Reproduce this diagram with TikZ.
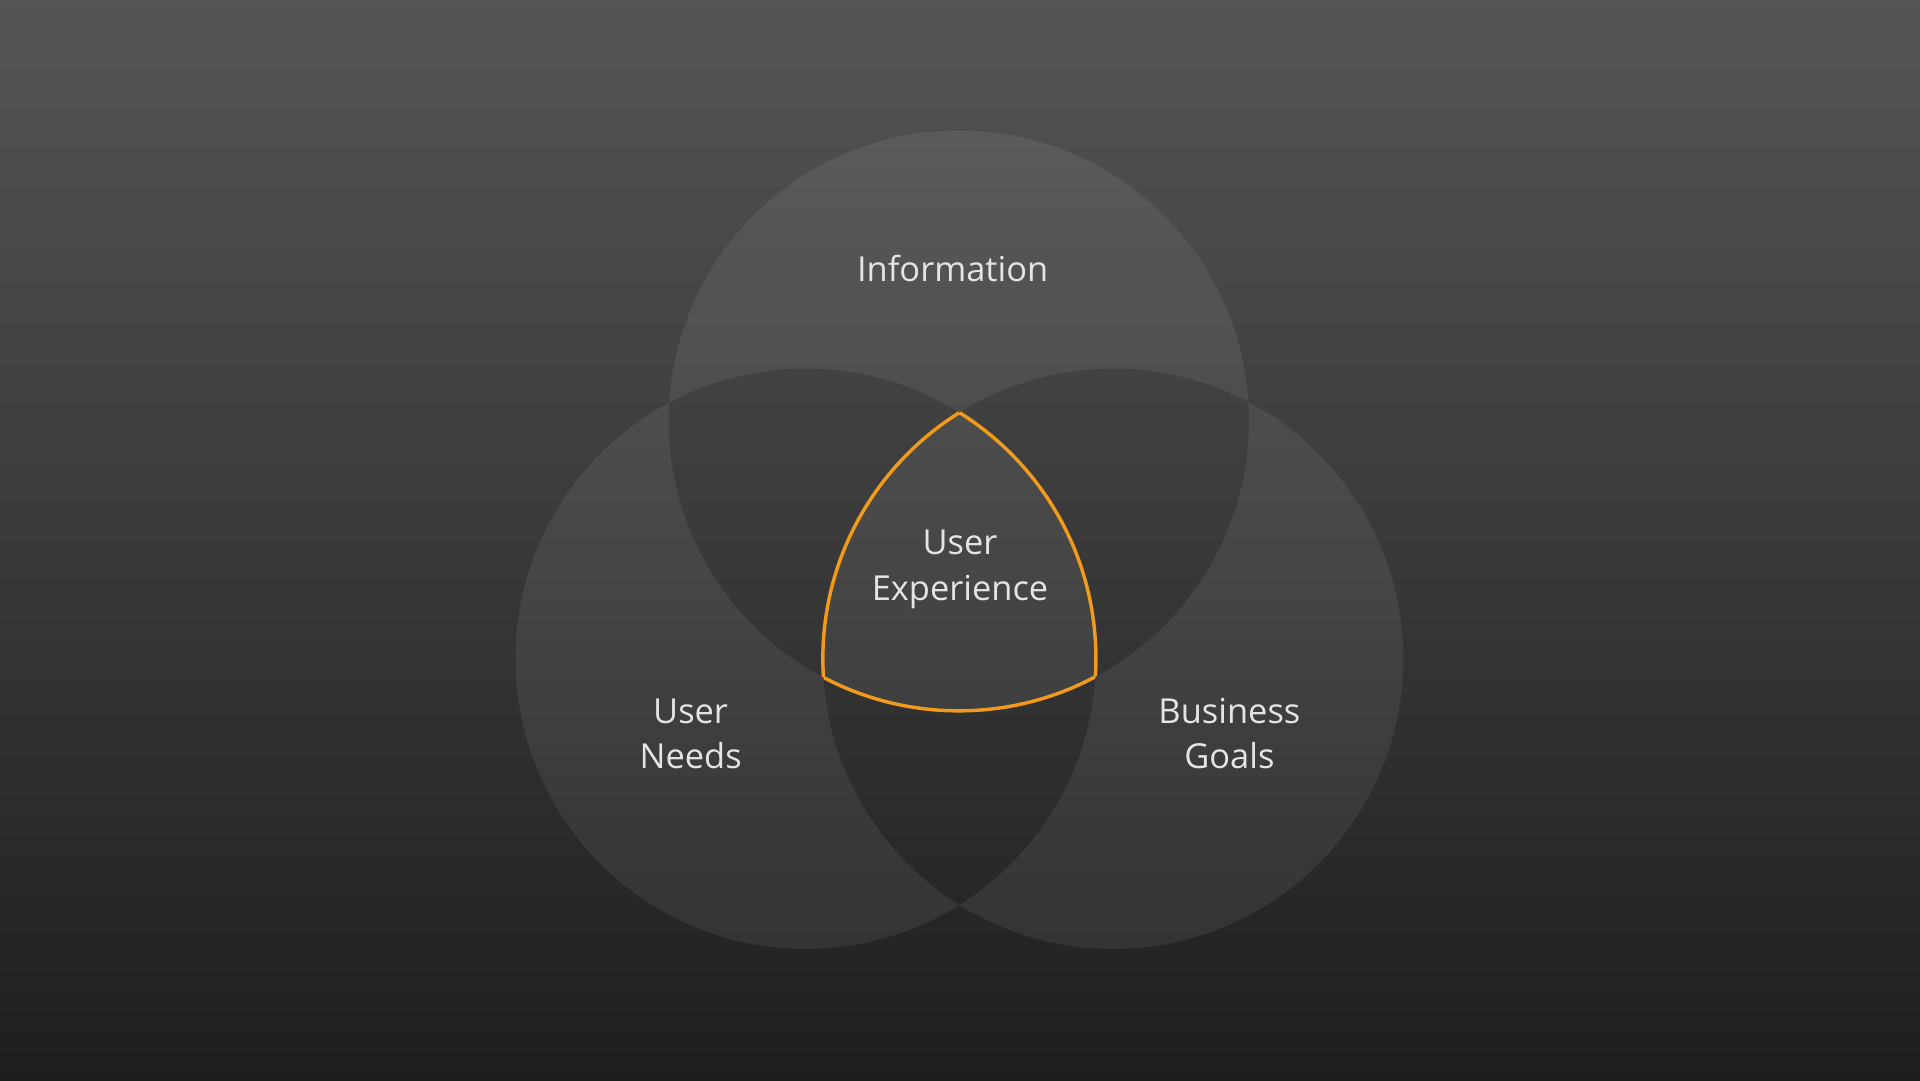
\documentclass[tikz,border=0pt]{standalone}
\usepackage{fontspec}
\setmainfont{Open Sans}
\usepackage{tikz}
\usetikzlibrary{positioning}
\definecolor{bgtop}{HTML}{555555}
\definecolor{bgbot}{HTML}{1E1E1E}
\definecolor{uxorange}{HTML}{F29A1A}
\definecolor{labelgray}{HTML}{E4E4E4}

\begin{document}
\begin{tikzpicture}[every node/.style={align=center, text=labelgray, font=\fontsize{8}{10.5}\selectfont}]
		\tikzstyle{venn}=[fill=white, fill opacity=0.07]
		\tikzstyle{rim}=[draw=uxorange, line width=0.8pt]
		
		\shade[top color=bgtop, bottom color=bgbot] (0,0) rectangle (15.68,8.82);
		\useasboundingbox (0,0) rectangle (15.68,8.82);
		
		\coordinate (info) at (7.83,5.385);
		\coordinate (needs) at (6.58,3.44);
		\coordinate (goals) at (9.09,3.44);
		
		% one or three circles lighter, two unchanged
		\fill[venn, even odd rule] (info) circle (2.37) (needs) circle (2.37) (goals) circle (2.37);
		
		% outline of the common part
		\begin{scope}
			\clip (needs) circle (2.37); \clip (goals) circle (2.37);
			\draw[rim] (info) circle (2.37);
		\end{scope}
		\begin{scope}
			\clip (info) circle (2.37); \clip (goals) circle (2.37);
			\draw[rim] (needs) circle (2.37);
		\end{scope}
		\begin{scope}
			\clip (info) circle (2.37); \clip (needs) circle (2.37);
			\draw[rim] (goals) circle (2.37);
		\end{scope}
		
		\node (infotext)  at (7.78,6.63) {Information};
		\node (uxtext)    at (7.84,4.17) {User\\Experience};
		\node (needstext) at (5.64,2.83) {User\\Needs};
		\node (goalstext) at (10.04,2.83) {Business\\Goals};
\end{tikzpicture}
\end{document}
